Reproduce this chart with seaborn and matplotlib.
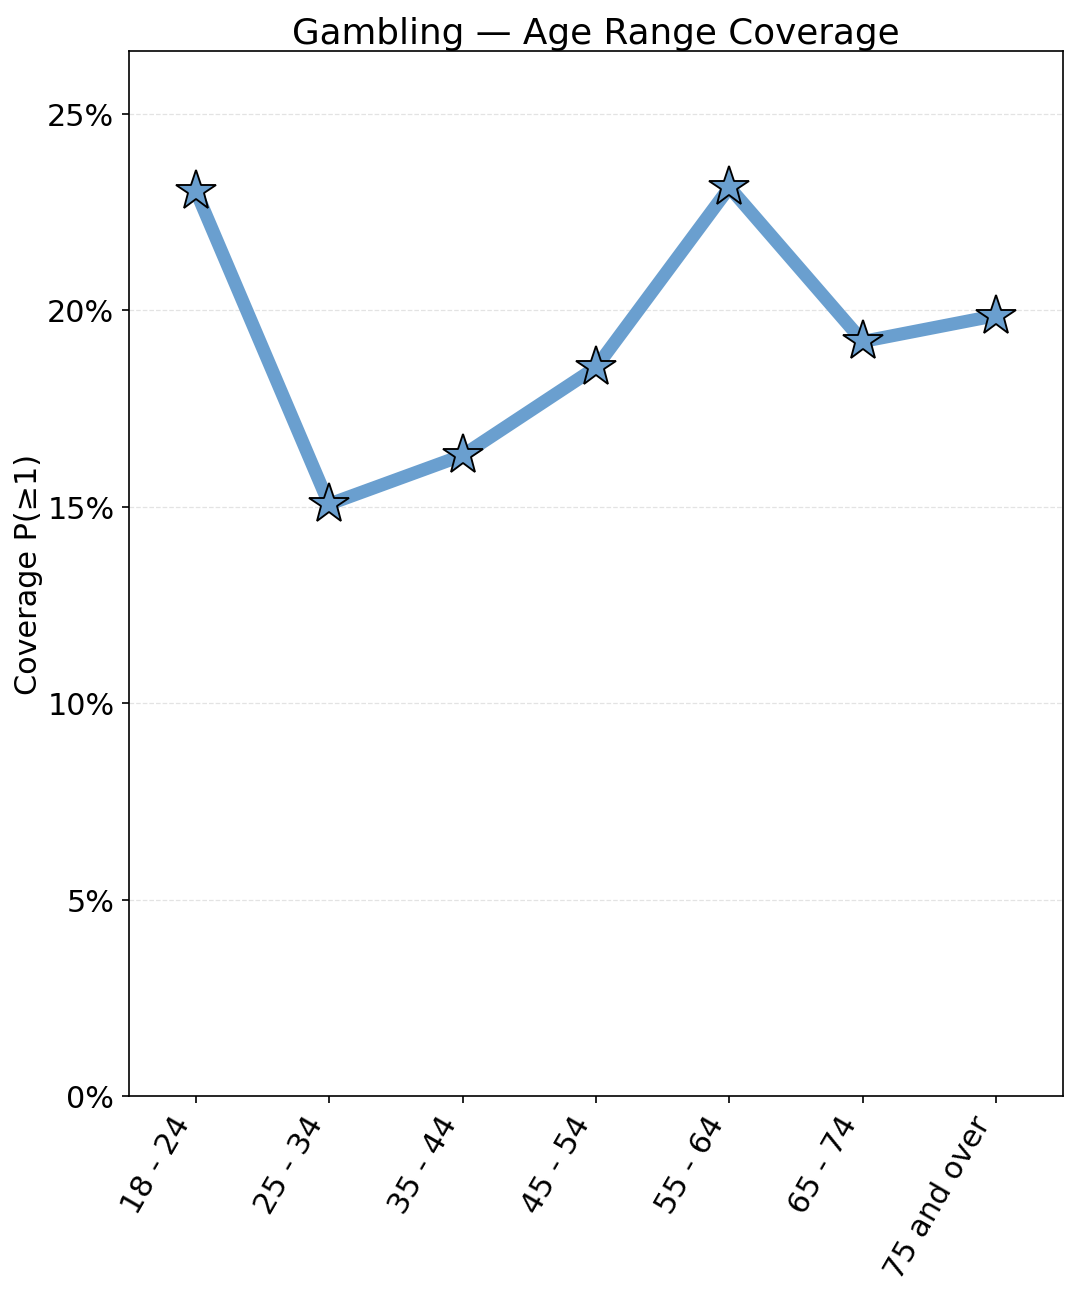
import pandas as pd
import numpy as np
import matplotlib.pyplot as plt
import seaborn as sns
from matplotlib.ticker import PercentFormatter

# 数据
age_ranges = ['18 - 24', '25 - 34', '35 - 44', '45 - 54', '55 - 64', '65 - 74', '75 and over']
coverage = [0.2304, 0.1506, 0.1630, 0.1854, 0.2312, 0.1920, 0.1986]

df = pd.DataFrame({'age': age_ranges, 'coverage': coverage})

fig, ax = plt.subplots(figsize=(7.2, 8.633), dpi=150)
fig.subplots_adjust(left=0.1194, right=0.9843, top=0.9598, bottom=0.1529)

sns.lineplot(data=df, x='age', y='coverage', ax=ax, color='#6a9fcf', linewidth=6.3,
             marker='*', markersize=20, markerfacecolor='#6a9fcf',
             markeredgecolor='black', markeredgewidth=0.9, sort=False)

ax.set_xlim(-0.5, len(age_ranges) - 0.5)
ax.set_ylim(0, max(coverage) * 1.15)
ax.yaxis.set_major_formatter(PercentFormatter(1.0, decimals=0))
ax.grid(axis='y', linestyle='--', color='#dddddd', linewidth=0.6, alpha=0.8)
ax.set_axisbelow(True)

ax.set_title('Gambling — Age Range Coverage', fontsize=17.2, pad=4)
ax.set_xlabel('')
ax.set_ylabel('Coverage P(≥1)', fontsize=14.5, labelpad=2)
ax.tick_params(axis='both', labelsize=14.5)
plt.setp(ax.get_xticklabels(), rotation=60, ha='right')

fig.savefig('out.png', dpi=150)
